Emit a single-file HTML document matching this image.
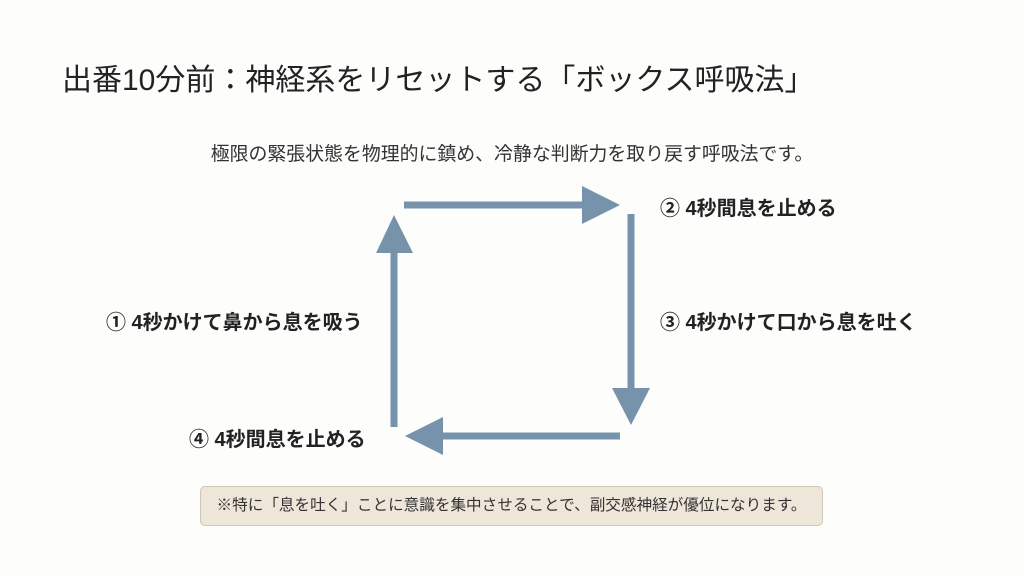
<!DOCTYPE html>
<html><head><meta charset="utf-8"><style>
body{margin:0;width:1024px;height:576px;background:#fdfdfc;position:relative;overflow:hidden;font-family:"Liberation Sans","Noto Sans CJK JP",sans-serif;color:#222}
.t{position:absolute;white-space:nowrap}
.l{font-weight:bold;font-size:20px;color:#222}
</style></head><body>
<div class="t" style="left:62px;top:55px;font-size:30px;color:#222">出番10分前：神経系をリセットする「ボックス呼吸法」</div>
<div class="t" style="left:0;width:1024px;text-align:center;top:139px;font-size:18.9px;color:#333">極限の緊張状態を物理的に鎮め、冷静な判断力を取り戻す呼吸法です。</div>
<svg style="position:absolute;left:0;top:0" width="1024" height="576">
<g fill="#7793ac" stroke="none">
<rect x="404" y="201.5" width="182" height="7"/><polygon points="582,186 620,205 582,224"/>
<rect x="627.5" y="214" width="7" height="178"/><polygon points="612,388 650,388 631,425"/>
<rect x="438" y="432.5" width="182" height="7"/><polygon points="443,417 405,436 443,455"/>
<rect x="390.5" y="250" width="7" height="177"/><polygon points="376,253 413,253 394,215"/>
</g></svg>
<div class="t l" style="left:660px;top:192px">② 4秒間息を止める</div>
<div class="t l" style="left:106px;top:306px">① 4秒かけて鼻から息を吸う</div>
<div class="t l" style="left:660px;top:306px">③ 4秒かけて口から息を吐く</div>
<div class="t l" style="left:189px;top:423px">④ 4秒間息を止める</div>
<div style="position:absolute;left:200px;top:486px;width:621px;height:38px;background:#efe6da;border:1px solid #cfc5b8;border-radius:5px;font-size:15.6px;color:#333;line-height:38px;text-align:center">※特に「息を吐く」ことに意識を集中させることで、副交感神経が優位になります。</div>
</body></html>
